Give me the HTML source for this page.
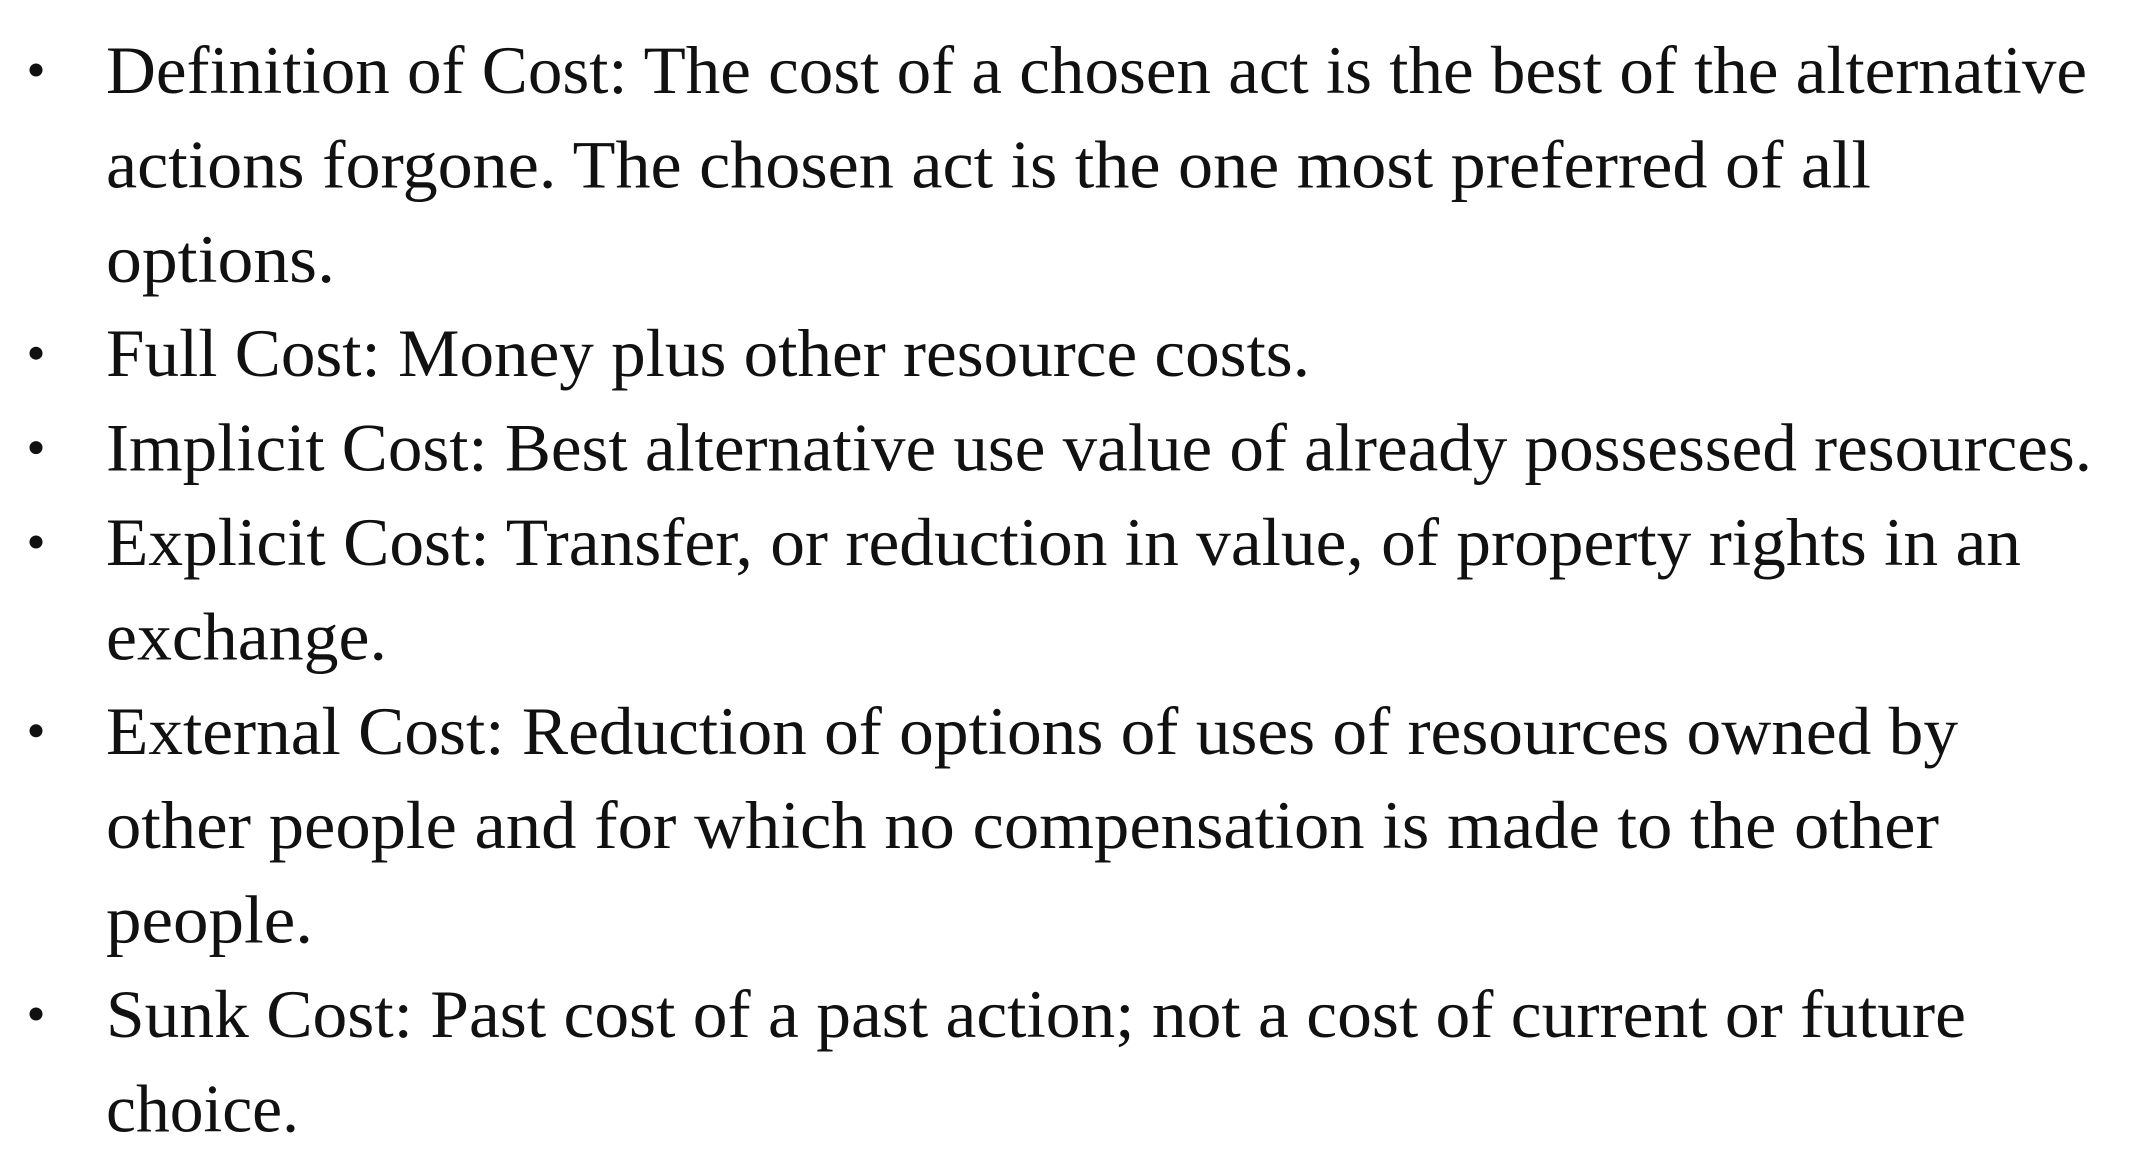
<!DOCTYPE html>
<html><head><meta charset="utf-8"><style>
html,body{margin:0;padding:0;background:#fff;width:2136px;height:1164px;overflow:hidden}
svg{display:block}
text{font-family:"Liberation Serif",serif;font-size:68px;fill:#111}
</style></head><body>
<svg width="2136" height="1164">
<g id="g"></g>
</svg>
<script>
const lines=[
["Definition of Cost: The cost of a chosen act is the best of the alternative",1,1981],
["actions forgone. The chosen act is the one most preferred of all",0,1765],
["options.",0,229],
["Full Cost: Money plus other resource costs.",1,1204],
["Implicit Cost: Best alternative use value of already possessed resources.",1,1986],
["Explicit Cost: Transfer, or reduction in value, of property rights in an",1,1915],
["exchange.",0,281],
["External Cost: Reduction of options of uses of resources owned by",1,1852],
["other people and for which no compensation is made to the other",0,1833],
["people.",0,207],
["Sunk Cost: Past cost of a past action; not a cost of current or future",1,1860],
["choice.",0,193]
];
const g=document.getElementById('g');
const NS='http://www.w3.org/2000/svg';
lines.forEach((l,i)=>{
  const y=93+94.4*i;
  if(l[1]){
    const c=document.createElementNS(NS,'circle');
    c.setAttribute('cx',36);c.setAttribute('cy',y-23);c.setAttribute('r',6.5);c.setAttribute('fill','#111');
    
    
    g.appendChild(c);
  }
  const t=document.createElementNS(NS,'text');
  t.setAttribute('x',106);t.setAttribute('y',y);
  t.setAttribute('textLength',l[2]);t.setAttribute('lengthAdjust','spacingAndGlyphs');
  t.textContent=l[0];
  
  
  g.appendChild(t);
});
</script>
</body></html>
